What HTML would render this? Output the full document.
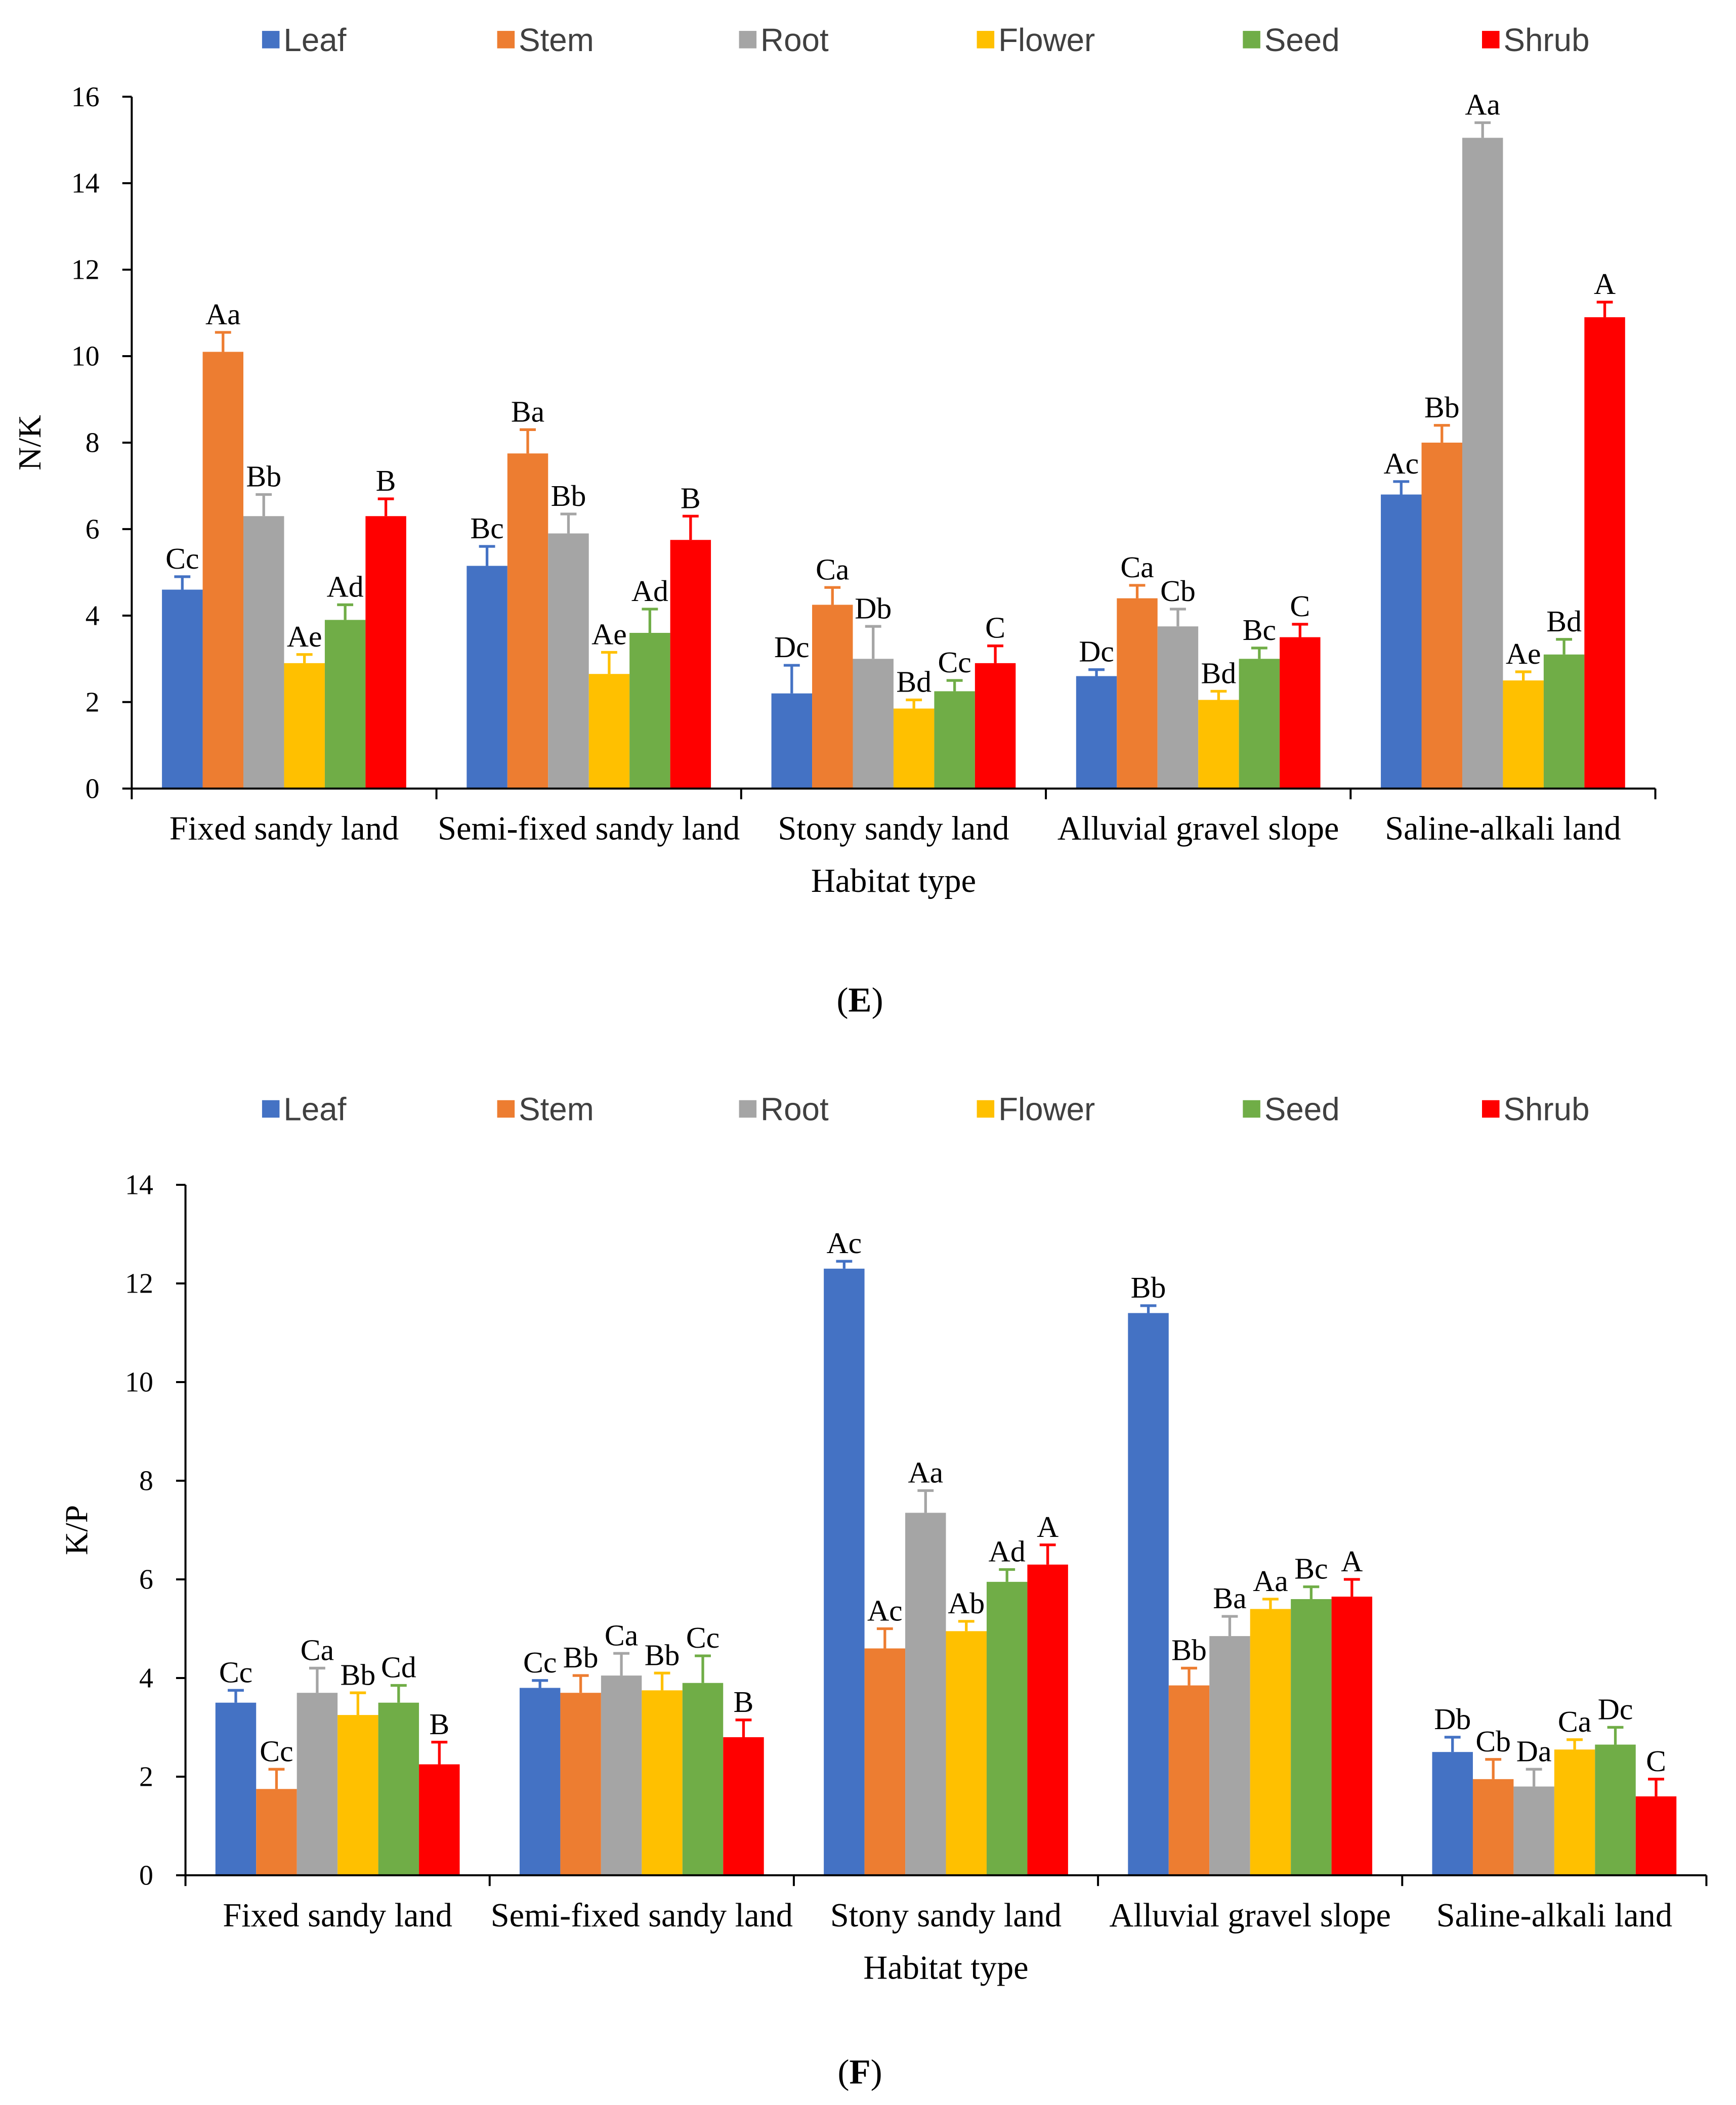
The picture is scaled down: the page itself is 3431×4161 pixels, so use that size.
<!DOCTYPE html>
<html><head><meta charset="utf-8"><style>body{margin:0;background:#fff}svg{display:block}</style></head>
<body>
<svg id="s" width="3431" height="4161" viewBox="0 0 1292 1567" xmlns="http://www.w3.org/2000/svg" font-family="Liberation Serif, serif"></svg>
<script>
const categories=["Fixed sandy land","Semi-fixed sandy land","Stony sandy land","Alluvial gravel slope","Saline-alkali land"];
const seriesNames=["Leaf","Stem","Root","Flower","Seed","Shrub"];
const colors=["#4472C4","#ED7D31","#A5A5A5","#FFC000","#70AD47","#FF0000"];
// Chart E (N/K)
const eValues=[[4.6,10.1,6.3,2.9,3.9,6.3],[5.15,7.75,5.9,2.65,3.6,5.75],[2.2,4.25,3.0,1.85,2.25,2.9],[2.6,4.4,3.75,2.05,3.0,3.5],[6.8,8.0,15.05,2.5,3.1,10.9]];
const eErrors=[[0.3,0.45,0.5,0.2,0.35,0.4],[0.45,0.55,0.45,0.5,0.55,0.55],[0.65,0.4,0.75,0.2,0.25,0.4],[0.15,0.3,0.4,0.2,0.25,0.3],[0.3,0.4,0.35,0.2,0.35,0.35]];
const eLabels=[["Cc","Aa","Bb","Ae","Ad","B"],["Bc","Ba","Bb","Ae","Ad","B"],["Dc","Ca","Db","Bd","Cc","C"],["Dc","Ca","Cb","Bd","Bc","C"],["Ac","Bb","Aa","Ae","Bd","A"]];
const eTicks=[0,2,4,6,8,10,12,14,16];
// Chart F (K/P)
const fValues=[[3.5,1.75,3.7,3.25,3.5,2.25],[3.8,3.7,4.05,3.75,3.9,2.8],[12.3,4.6,7.35,4.95,5.95,6.3],[11.4,3.85,4.85,5.4,5.6,5.65],[2.5,1.95,1.8,2.55,2.65,1.6]];
const fErrors=[[0.25,0.4,0.5,0.45,0.35,0.45],[0.15,0.35,0.45,0.35,0.55,0.35],[0.15,0.4,0.45,0.2,0.25,0.4],[0.15,0.35,0.4,0.2,0.25,0.35],[0.3,0.4,0.35,0.2,0.35,0.35]];
const fLabels=[["Cc","Cc","Ca","Bb","Cd","B"],["Cc","Bb","Ca","Bb","Cc","B"],["Ac","Ac","Aa","Ab","Ad","A"],["Bb","Bb","Ba","Aa","Bc","A"],["Db","Cb","Da","Ca","Dc","C"]];
const fTicks=[0,2,4,6,8,10,12,14];

const S=document.getElementById('s');const NS="http://www.w3.org/2000/svg";
function el(t,a,p){const e=document.createElementNS(NS,t);for(const k in a)e.setAttribute(k,a[k]);(p||S).appendChild(e);return e;}
function txt(x,y,s,a,p){const e=el('text',Object.assign({x:x,y:y},a),p);e.textContent=s;return e;}

function chart(id,cfg,vals,errs,labs,ticks){
 const g=el('g',{});
 
 
 const yMax=ticks[ticks.length-1];
 const y=v=>cfg.y0-(cfg.y0-cfg.yTop)*v/yMax;
 const gw=(cfg.x1-cfg.x0)/categories.length;const bw=30.3;
 const lx=[195,370,550,727,925,1103];
 seriesNames.forEach((n,i)=>{
  const le=el('g',{},g);
  
  
  el('rect',{x:lx[i],y:cfg.legY-7,width:13,height:13,fill:colors[i]},le);
  txt(lx[i]+16,cfg.legY+8,n,{'font-family':'Liberation Sans, sans-serif','font-size':24,fill:'#404040'},le);
 });
 vals.forEach((row,c)=>{
  const cx=cfg.x0+gw*(c+0.5);const start=cx-bw*3;
  row.forEach((v,i)=>{
   const bx=start+bw*i;const top=y(v);const et=y(v+errs[c][i]);const mx=bx+bw/2;
   const r=el('rect',{x:bx,y:top,width:bw,height:cfg.y0-top,fill:colors[i]},g);
   
   
   el('line',{x1:mx,x2:mx,y1:top,y2:et,stroke:colors[i],'stroke-width':2},g);
   el('line',{x1:mx-6,x2:mx+6,y1:et,y2:et,stroke:colors[i],'stroke-width':2},g);
   const l=txt(mx,et-6,labs[c][i],{'font-size':22.5,'text-anchor':'middle',fill:'#000'},g);
   
   
  });
  const cl=txt(cx,cfg.y0+38,categories[c],{'font-size':25,'text-anchor':'middle'},g);
  
  
 });
 el('line',{x1:cfg.x0,x2:cfg.x0,y1:cfg.yTop,y2:cfg.y0,stroke:'#000','stroke-width':1.5},g);
 el('line',{x1:cfg.x0,x2:cfg.x1,y1:cfg.y0,y2:cfg.y0,stroke:'#000','stroke-width':1.5},g);
 for(let c=0;c<=categories.length;c++){const x=cfg.x0+gw*c;el('line',{x1:x,x2:x,y1:cfg.y0,y2:cfg.y0+8,stroke:'#000','stroke-width':1.5},g);}
 ticks.forEach(t=>{
  el('line',{x1:cfg.x0-7,x2:cfg.x0,y1:y(t),y2:y(t),stroke:'#000','stroke-width':1.5},g);
  const tl=txt(cfg.x0-24,y(t)+7,String(t),{'font-size':21,'text-anchor':'end'},g);
  
  
 });
 const yt=txt(0,0,cfg.yTitle,{'font-size':24,'text-anchor':'middle',transform:`translate(${cfg.ytX},${(cfg.y0+cfg.yTop)/2}) rotate(-90)`},g);
 
 
 const xt=txt((cfg.x0+cfg.x1)/2,cfg.y0+77,'Habitat type',{'font-size':25,'text-anchor':'middle'},g);
 
 
 const pl=el('text',{x:640,y:cfg.panelY,'font-size':26,'text-anchor':'middle'},g);
 pl.innerHTML='(<tspan font-weight="bold">'+cfg.panel+'</tspan>)';
 
 
}
chart('e',{x0:98,x1:1232,y0:587,yTop:72,legY:30,yTitle:'N/K',ytX:30,panel:'E',panelY:753},eValues,eErrors,eLabels,eTicks);
chart('f',{x0:138,x1:1270,y0:1396,yTop:882,legY:826,yTitle:'K/P',ytX:65,panel:'F',panelY:1551},fValues,fErrors,fLabels,fTicks);
</script>
</body></html>
